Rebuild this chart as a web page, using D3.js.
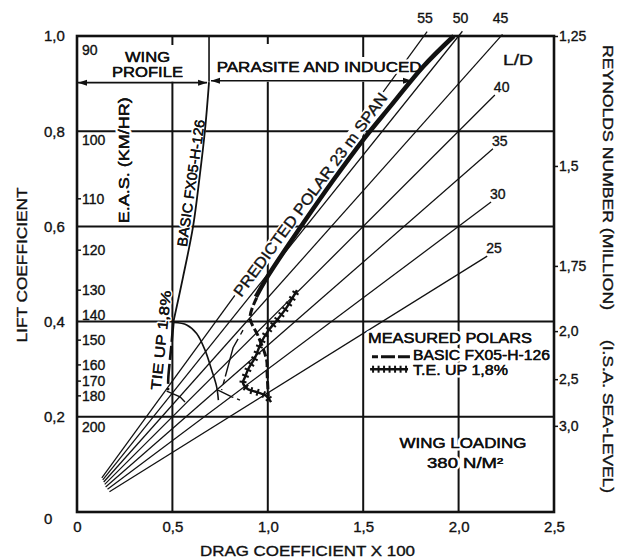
<!DOCTYPE html>
<html><head><meta charset="utf-8">
<script src="https://cdn.jsdelivr.net/npm/d3@7"></script>
<style>
body{margin:0;background:#fff}
svg{display:block;background:#fff}
text{font-family:"Liberation Sans",Arial,Helvetica,sans-serif;fill:#111;font-size:14px;stroke:#111;stroke-width:0.35px}
.halo{stroke:#fff;stroke-width:5px;paint-order:stroke;stroke-linejoin:round}
</style></head><body>
<svg id="c" width="625" height="559"></svg>
<script>
// ---------------- DATA ----------------
const xTicks = [0, 0.5, 1.0, 1.5, 2.0, 2.5];
const xTickLabels = ["0", "0,5", "1,0", "1,5", "2,0", "2,5"];
const yTicks = [0, 0.2, 0.4, 0.6, 0.8, 1.0];
const yTickLabels = ["0", "0,2", "0,4", "0,6", "0,8", "1,0"];
const gridX = [0.5, 1.0, 1.5, 2.0];
const gridY = [0.2, 0.4, 0.6, 0.8];

// E.A.S. (km/hr) scale, inside left edge
const easLabels = ["90", "100", "110", "120", "130", "140", "150", "160", "170", "180", "200"];
const easCL     = [0.971, 0.782, 0.658, 0.550, 0.466, 0.414, 0.361, 0.309, 0.275, 0.244, 0.179];
const easHasTick = [false, false, true, true, true, false, true, true, true, true, false];

// Reynolds number (million), right edge
const reLabels = ["1,25", "1,5", "1,75", "2,0", "2,5", "3,0"];
const reCL     = [1.0, 0.727, 0.517, 0.380, 0.279, 0.181];

// L/D rays
const ldValues  = [55, 50, 45, 40, 35, 30, 25];
const ldStartCD = [0.13, 0.135, 0.14, 0.145, 0.15, 0.16, 0.17];
const ldEndCD   = [1.835, 2.02, 2.23, 2.19, 2.18, 2.17, 2.15];

// Predicted polar 23 m span (thick)
const predCD = [0.938, 1.001, 1.186, 1.343, 1.500, 1.640, 1.815, 1.975];
const predCL = [0.452, 0.496, 0.607, 0.697, 0.782, 0.851, 0.936, 1.0];

// Wing profile polar BASIC FX05-H-126
const profCD = [0.692, 0.671, 0.642, 0.608, 0.556, 0.505];
const profCL = [0.903, 0.803, 0.702, 0.599, 0.494, 0.399];

// Tie up 1,8% profile polar (below CL 0.4)
const tieCD = [0.505, 0.500, 0.494, 0.486, 0.479, 0.477];
const tieCL = [0.399, 0.375, 0.347, 0.315, 0.285, 0.256];
const tieHookCD = [0.470, 0.540, 0.566];
const tieHookCL = [0.254, 0.242, 0.231];

// arc from (0.5,0.4)
const arcCD = [0.508, 0.575, 0.627, 0.671, 0.706, 0.732, 0.741];
const arcCL = [0.398, 0.393, 0.375, 0.340, 0.298, 0.263, 0.235];

// thin dashed branch left of measured polars
const midCD = [0.870, 0.818, 0.758];
const midCL = [0.382, 0.345, 0.256];
const midTailCD = [0.739, 0.811, 0.854];
const midTailCL = [0.256, 0.242, 0.235];

// Measured polar BASIC FX05-H-126 (dashed)
const basicCD = [0.942, 0.907, 0.949, 0.994, 0.996, 1.003];
const basicCL = [0.450, 0.408, 0.370, 0.319, 0.294, 0.242];

// Measured polar T.E. UP 1,8% (crossed line)
const teCD = [1.153, 1.101, 1.048, 1.001, 0.964, 0.933, 0.901, 0.881, 0.870, 0.896, 0.943, 0.991, 1.017];
const teCL = [0.466, 0.431, 0.403, 0.380, 0.355, 0.324, 0.303, 0.284, 0.271, 0.258, 0.252, 0.244, 0.231];

// ---------------- LAYOUT ----------------
const svg = d3.select("#c");
const x = d3.scaleLinear([0, 2.5], [77, 554]);
const y = d3.scaleLinear([0, 1], [512, 36]);
const INK = "#111";
const headerCL = 0.904;
const splitCD = 0.692;
const topStub = {0.5: 9, 1: 8, 1.5: 21, 2: null};

const gGrid = svg.append("g").attr("stroke", INK).attr("fill", "none");
gridY.forEach(v => gGrid.append("line")
  .attr("x1", x(0)).attr("x2", x(2.5)).attr("y1", y(v)).attr("y2", y(v))
  .attr("stroke-width", 2));
gridX.forEach(v => {
  const stub = topStub[v];
  if (stub === null) {
    gGrid.append("line").attr("x1", x(v)).attr("x2", x(v)).attr("y1", y(0)).attr("y2", y(1)).attr("stroke-width", 2);
  } else {
    gGrid.append("line").attr("x1", x(v)).attr("x2", x(v)).attr("y1", y(0)).attr("y2", y(headerCL)).attr("stroke-width", 2);
    gGrid.append("line").attr("x1", x(v)).attr("x2", x(v)).attr("y1", y(1)).attr("y2", y(1) + stub).attr("stroke-width", 2);
  }
});
gGrid.append("line").attr("x1", x(splitCD)).attr("x2", x(splitCD)).attr("y1", y(1)).attr("y2", y(headerCL)).attr("stroke-width", 1.6);

// L/D rays
const gRays = svg.append("g");
ldValues.forEach((ld, i) => {
  const k = ld / 100;
  const x1 = x(ldStartCD[i]), y1 = y(k * ldStartCD[i]);
  const x2 = x(ldEndCD[i]), y2 = y(k * ldEndCD[i]);
  gRays.append("line").attr("x1", x1).attr("y1", y1).attr("x2", x2).attr("y2", y2)
    .attr("stroke", INK).attr("stroke-width", 1.25);
  const top = k * ldEndCD[i] >= 1;
  gRays.append("text").attr("x", top ? x2 - 2 : x2 - 1).attr("y", top ? y(1) - 13 : y2 - 3)
    .attr("text-anchor", top ? "middle" : "start").text(ld);
});

// ---------------- TEXT ANNOTATIONS ----------------
function label(txt, cd, cl, opts = {}) {
  if (opts.box) {
    svg.append("rect").attr("transform", `translate(${x(cd)},${y(cl)}) rotate(${opts.rotate || 0})`)
      .attr("x", -opts.len / 2 - 2).attr("y", -opts.box / 2).attr("width", opts.len + 4).attr("height", opts.box)
      .attr("fill", "#fff");
  }
  const copies = (opts.halo === false || opts.box) ? ["main"] : ["halo", "main"];
  let t;
  copies.forEach(kind => {
    t = svg.append("text").attr("class", kind === "halo" ? "halo" : null)
      .attr("text-anchor", opts.anchor || "start").text(txt);
    if (opts.rotate !== undefined) {
      t.attr("transform", `translate(${x(cd)},${y(cl)}) rotate(${opts.rotate})`).attr("dy", "0.35em");
    } else {
      t.attr("x", x(cd)).attr("y", y(cl));
    }
    if (opts.len) t.attr("textLength", opts.len).attr("lengthAdjust", "spacingAndGlyphs");
    if (opts.size) t.style("font-size", opts.size + "px");
    if (kind === "halo" && opts.hw) t.style("stroke-width", opts.hw + "px");
  });
  return t;
}
label("WING", 0.3695, 0.946, {anchor: "middle", len: 45});
label("PROFILE", 0.3695, 0.914, {anchor: "middle", len: 71});
label("PARASITE AND INDUCED", 0.732, 0.925, {len: 205});
label("L/D", 2.233, 0.939, {len: 30, halo: false});
label("E.A.S.  (KM/HR)", 0.246, 0.739, {anchor: "middle", rotate: -90, len: 126});
label("BASIC FX05-H-126", 0.597, 0.691, {anchor: "middle", rotate: -81.8, len: 128, hw: 4});
label("TIE UP 1,8%", 0.440, 0.361, {anchor: "middle", rotate: -84, len: 100, hw: 3});
label("PREDICTED POLAR 23 m SPAN", 1.2228, 0.6668, {anchor: "middle", rotate: -53.7, len: 248, size: 15.5, box: 14});
label("MEASURED POLARS", 1.525, 0.355, {len: 164});
label("BASIC FX05-H-126", 1.761, 0.319, {len: 137});
label("T.E. UP 1,8%", 1.761, 0.288, {len: 95});
label("WING LOADING", 2.023, 0.134, {anchor: "middle", len: 127});
label("380 N/M²", 2.034, 0.092, {anchor: "middle", len: 76});

// ---------------- CURVES ----------------
const line = d3.line().x(d => x(d[0])).y(d => y(d[1])).curve(d3.curveCatmullRom.alpha(0.5));
const straight = d3.line().x(d => x(d[0])).y(d => y(d[1]));
const gC = svg.append("g").attr("fill", "none").attr("stroke", INK).attr("stroke-linecap", "butt");

gC.append("path").attr("d", line(d3.zip(profCD, profCL))).attr("stroke-width", 1.8);
gC.append("path").attr("d", line(d3.zip(tieCD, tieCL))).attr("stroke-width", 2.6).attr("stroke-dasharray", "20,4,14,4");
gC.append("path").attr("d", straight(d3.zip(tieHookCD, tieHookCL))).attr("stroke-width", 1.4);
gC.append("path").attr("d", line(d3.zip(arcCD, arcCL))).attr("stroke-width", 1.6);
gC.append("path").attr("d", straight(d3.zip(midCD, midCL))).attr("stroke-width", 1.4).attr("stroke-dasharray", "5,5,40,3");
gC.append("path").attr("d", straight(d3.zip(midTailCD, midTailCL))).attr("stroke-width", 1.4).attr("stroke-dasharray", "17,4,6,20");
gC.append("path").attr("d", line(d3.zip(basicCD, basicCL))).attr("stroke-width", 3).attr("stroke-dasharray", "8,3");
const tePath = gC.append("path").attr("d", line(d3.zip(teCD, teCL))).attr("stroke-width", 2.4);
gC.append("path").attr("d", line(d3.zip(predCD, predCL))).attr("stroke-width", 4.5);

function crosses(pathSel, step, half) {
  const node = pathSel.node();
  const L = node.getTotalLength();
  for (let l = 3; l < L - 1; l += step) {
    const p = node.getPointAtLength(l), q = node.getPointAtLength(Math.min(L, l + 0.5));
    let dx = q.x - p.x, dy = q.y - p.y; const n = Math.hypot(dx, dy) || 1; dx /= n; dy /= n;
    gC.append("line").attr("x1", p.x - dy * half).attr("y1", p.y + dx * half)
      .attr("x2", p.x + dy * half).attr("y2", p.y - dx * half).attr("stroke-width", 2);
  }
}
crosses(tePath, 6.5, 3.5);

// legend samples
gC.append("path").attr("d", straight([[1.546, 0.326], [1.745, 0.326]])).attr("stroke-width", 3).attr("stroke-dasharray", "6,3,14,3,13,0");
const legTe = gC.append("path").attr("d", straight([[1.536, 0.300], [1.735, 0.300]])).attr("stroke-width", 2.6);
crosses(legTe, 5.5, 3.5);

// ---------------- ARROWS ----------------
const gA = svg.append("g").attr("stroke", INK).attr("fill", INK);
function arrow(cd1, cd2, cl) {
  const ya = y(cl), xa = x(cd1) + 1, xb = x(cd2) - 1;
  gA.append("line").attr("x1", xa).attr("x2", xb).attr("y1", ya).attr("y2", ya).attr("stroke-width", 1.6);
  gA.append("path").attr("stroke", "none").attr("d", `M${xa},${ya}L${xa + 9},${ya - 3}L${xa + 9},${ya + 3}Z`);
  gA.append("path").attr("stroke", "none").attr("d", `M${xb},${ya}L${xb - 9},${ya - 3}L${xb - 9},${ya + 3}Z`);
}
arrow(0, splitCD - 0.005, headerCL - 0.002);
arrow(splitCD + 0.005, 1.761, headerCL + 0.002);

// ---------------- FRAME & AXES ----------------
svg.append("rect").attr("x", x(0)).attr("y", y(1)).attr("width", x(2.5) - x(0)).attr("height", y(0) - y(1))
  .attr("fill", "none").attr("stroke", INK).attr("stroke-width", 2.6);

const ax = svg.append("g").attr("transform", `translate(0,${y(0)})`)
  .call(d3.axisBottom(x).tickValues(xTicks).tickSize(0).tickPadding(9).tickFormat((d, i) => xTickLabels[i]));
ax.select(".domain").remove();
ax.selectAll("text").style("font-size", "15px").attr("fill", INK).attr("stroke", INK).attr("stroke-width", 0.35).style("font-family", null);

const ay = svg.append("g").attr("transform", `translate(${x(0)},0)`)
  .call(d3.axisLeft(y).tickValues(yTicks).tickSize(0).tickFormat((d, i) => yTickLabels[i]));
ay.select(".domain").remove();
ay.selectAll("text").attr("x", 44 - x(0)).attr("text-anchor", "start").style("font-size", "15px").attr("fill", INK).attr("stroke", INK).attr("stroke-width", 0.35).style("font-family", null);
ay.selectAll(".tick").filter(d => d === 0).select("text").attr("dy", "0.75em");

const ar = svg.append("g").attr("transform", `translate(${x(2.5)},0)`)
  .call(d3.axisRight(y).tickValues(reCL).tickSize(4).tickPadding(1).tickFormat((d, i) => reLabels[i]));
ar.select(".domain").remove();
ar.selectAll("line").attr("stroke", INK).attr("stroke-width", 1.5);
ar.selectAll("text").style("font-size", "14px").attr("fill", INK).attr("stroke", INK).attr("stroke-width", 0.35).style("font-family", null);

// E.A.S. labels inside left edge
const ge = svg.append("g");
easLabels.forEach((t, i) => {
  if (easHasTick[i]) ge.append("line").attr("x1", x(0)).attr("x2", x(0) + 4).attr("y1", y(easCL[i])).attr("y2", y(easCL[i])).attr("stroke", INK).attr("stroke-width", 1.5);
  ge.append("text").attr("x", x(0) + 5).attr("y", y(easCL[i])).attr("dy", "0.35em").style("font-size", "14px").text(t);
});

// axis titles
svg.append("text").attr("transform", "translate(22,265) rotate(-90)").attr("dy", "0.35em").attr("text-anchor", "middle")
  .attr("textLength", 155).attr("lengthAdjust", "spacingAndGlyphs").text("LIFT COEFFICIENT");
svg.append("text").attr("x", 307.5).attr("y", 556).attr("text-anchor", "middle")
  .attr("textLength", 215).attr("lengthAdjust", "spacingAndGlyphs").text("DRAG COEFFICIENT X 100");
svg.append("text").attr("transform", "translate(608,177.5) rotate(90)").attr("dy", "0.35em").attr("text-anchor", "middle")
  .attr("textLength", 265).attr("lengthAdjust", "spacingAndGlyphs").text("REYNOLDS NUMBER (MILLION)");
svg.append("text").attr("transform", "translate(608,416.5) rotate(90)").attr("dy", "0.35em").attr("text-anchor", "middle")
  .attr("textLength", 153).attr("lengthAdjust", "spacingAndGlyphs").text("(I.S.A. SEA-LEVEL)");
</script>
</body></html>
